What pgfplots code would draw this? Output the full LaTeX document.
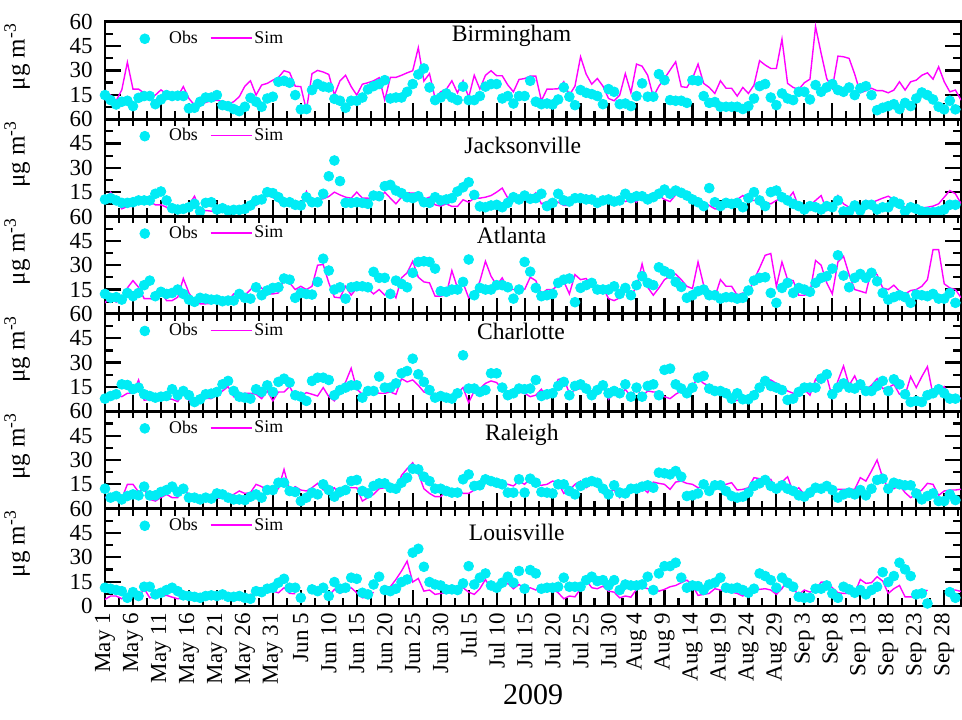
\documentclass[border=0pt]{standalone}
\usepackage{pgfplots}
\pgfplotsset{compat=1.18}
\usepackage{pgfplotstable}
\usepackage{fontspec}
\setmainfont{Liberation Serif}

\definecolor{obscyan}{RGB}{0,236,245}
\definecolor{simmag}{RGB}{255,0,255}

% daily PM2.5, day 0 = May 1 2009
\pgfplotstableread[row sep=\\]{
d obs sim \\
0 14.8 11.7 \\ 1 11.7 14.8 \\ 2 9 11.3 \\ 3 10.7 18 \\ 4 11.3 35 \\ 5 8 18.5 \\
6 13.1 18.5 \\ 7 14.2 16 \\ 8 14.2 13.3 \\ 9 9.2 14.8 \\ 10 12.1 18 \\ 11 14.8 15.4 \\
12 14.2 11.7 \\ 13 14.4 14 \\ 14 14.2 20 \\ 15 6.6 12.7 \\ 16 7 8.6 \\ 17 10.7 8.2 \\
18 13.3 10.3 \\ 19 13.3 11.3 \\ 20 14.8 11.7 \\ 21 8.6 10.7 \\ 22 8 9.2 \\ 23 6.2 10.7 \\
24 4.9 13.8 \\ 25 7.6 20.3 \\ 26 13.1 23.6 \\ 27 10.7 14.8 \\ 28 7.6 21 \\ 29 12.7 22 \\
30 13.8 24 \\ 31 23 25.7 \\ 32 23.6 29.8 \\ 33 22.4 28.7 \\ 34 14.8 20.3 \\ 35 6 20 \\
36 6.2 5.5 \\ 37 17.9 28 \\ 38 21.6 30 \\ 39 20 29 \\ 40 19.5 27.5 \\ 41 12.5 14.8 \\
42 11.3 23.6 \\ 43 7 27 \\ 44 11.3 20 \\ 45 11.3 14.8 \\ 46 13.3 21.5 \\ 47 18.3 22.4 \\
48 20.3 23.6 \\ 49 21.6 25.5 \\ 50 24 11.7 \\ 51 12.7 25.7 \\ 52 13.3 25.7 \\ 53 13.3 27 \\
54 16.8 28.5 \\ 55 21.6 29.8 \\ 56 27.5 44 \\ 57 31.2 23.4 \\ 58 19.5 28 \\ 59 11.7 12.7 \\
60 13.3 16.8 \\ 61 15.8 18.3 \\ 62 13.3 23.6 \\ 63 11.7 16.2 \\ 64 20 23.6 \\ 65 11.7 13.3 \\
66 11.7 27 \\ 67 14.2 18.5 \\ 68 20 27 \\ 69 21.6 29.8 \\ 70 21.6 26.7 \\ 71 12.7 26.7 \\
72 14.2 21 \\ 73 9.6 16.8 \\ 74 14.2 24.4 \\ 75 14.2 25 \\ 76 23.6 26.5 \\ 77 10.7 26.5 \\
78 9.2 11.3 \\ 79 9.6 18.5 \\ 80 9 18.5 \\ 81 12.1 18.7 \\ 82 19.5 23 \\ 83 13.8 14.8 \\
84 8.6 20.3 \\ 85 17.9 38.4 \\ 86 16.2 27.7 \\ 87 15.4 21.5 \\ 88 14.2 25 \\ 89 9.2 20.3 \\
90 18.5 12.7 \\ 91 16.8 11.3 \\ 92 9.2 14.8 \\ 93 9.6 28 \\ 94 8 16.2 \\ 95 14.2 33.9 \\
96 22 32.6 \\ 97 13.8 27 \\ 98 13.8 13.8 \\ 99 27.7 20.3 \\ 100 24 25 \\ 101 11.7 30.2 \\
102 11.3 35.3 \\ 103 11.3 20 \\ 104 10 19.5 \\ 105 24 25 \\ 106 23.6 33.9 \\ 107 14.2 22 \\
108 10 19.5 \\ 109 10.5 15.8 \\ 110 7.6 23.6 \\ 111 7.6 19 \\ 112 7.6 19 \\ 113 7.6 14.2 \\
114 6.2 19.5 \\ 115 8 15.8 \\ 116 12.7 21 \\ 117 20.3 36 \\ 118 21.6 33.3 \\ 119 13.3 31.2 \\
120 8.6 31.2 \\ 121 15.8 49.3 \\ 122 12.7 22 \\ 123 11.7 19.5 \\ 124 16.8 18.3 \\ 125 16.8 22.4 \\
126 12.1 24.6 \\ 127 21 57 \\ 128 16.8 40.5 \\ 129 19.5 25 \\ 130 21.6 19 \\ 131 17.9 38.8 \\
132 16.8 38.4 \\ 133 19.5 37.4 \\ 134 14.8 27.7 \\ 135 19 16.2 \\ 136 20.3 17.5 \\ 137 14.8 19 \\
138 5.5 17.5 \\ 139 7 17.5 \\ 140 8 16.2 \\ 141 9.2 17.9 \\ 142 6.2 23 \\ 143 10 17.9 \\
144 8 23 \\ 145 12.7 24 \\ 146 16.4 27 \\ 147 14.8 28.5 \\ 148 12.1 24.6 \\ 149 7.6 32.2 \\
150 6 23 \\ 151 11.3 16.8 \\ 152 6 17.9 \\ 153 nan 11.7 \\
}\tabBir

\pgfplotstableread[row sep=\\]{
d obs sim \\
0 10.5 9.9 \\ 1 11.3 15 \\ 2 9.9 9.9 \\ 3 8.4 4.7 \\ 4 8.4 6.2 \\ 5 8.8 6.2 \\
6 9.9 8.2 \\ 7 9.9 8.2 \\ 8 9.9 9.2 \\ 9 14 7.2 \\ 10 15.4 7.2 \\ 11 9.9 5.7 \\
12 5.1 2.7 \\ 13 4.3 5.1 \\ 14 4.7 6.2 \\ 15 5.7 7.2 \\ 16 7.8 12.5 \\ 17 3.1 3.7 \\
18 8.4 3.7 \\ 19 8.8 3.3 \\ 20 4.3 2.7 \\ 21 5.1 2.7 \\ 22 3.7 5.7 \\ 23 4.1 5.7 \\
24 4.1 5.7 \\ 25 4.7 5.7 \\ 26 6.8 6.8 \\ 27 9.9 6.8 \\ 28 10.5 9.9 \\ 29 15 12.9 \\
30 14.4 11.9 \\ 31 11.9 9.2 \\ 32 8.8 6.8 \\ 33 8.8 9.9 \\ 34 7.2 7.8 \\ 35 6.8 7.8 \\
36 11.9 15.4 \\ 37 8.8 7.2 \\ 38 8.8 10.5 \\ 39 14 10.9 \\ 40 24.8 12.3 \\ 41 34.5 15 \\
42 21.8 13.3 \\ 43 8.4 11.9 \\ 44 8.4 11.3 \\ 45 8.8 15 \\ 46 8.4 11.3 \\ 47 7.8 11.3 \\
48 12.9 10.9 \\ 49 12.5 10.5 \\ 50 18.7 15 \\ 51 19.5 11.3 \\ 52 16 7.8 \\ 53 14.4 11.9 \\
54 11.9 14.6 \\ 55 11.3 14.4 \\ 56 12.5 14.6 \\ 57 8.8 10.5 \\ 58 8.4 11.9 \\ 59 11.9 7.2 \\
60 9.9 6.4 \\ 61 10.5 7.8 \\ 62 11.3 6.2 \\ 63 15.4 6.2 \\ 64 18 10.3 \\ 65 21.1 8.8 \\
66 13.3 11.3 \\ 67 6.2 11.3 \\ 68 5.7 11.9 \\ 69 6.8 12.9 \\ 70 7.2 15 \\ 71 5.7 17.5 \\
72 8.4 11.3 \\ 73 11.9 10.5 \\ 74 10.5 11.3 \\ 75 12.9 10 \\ 76 10.9 11.3 \\ 77 11.3 14.6 \\
78 14 7.8 \\ 79 6.4 9.2 \\ 80 8.4 9.9 \\ 81 14 8.8 \\ 82 9.9 6.8 \\ 83 9.2 6.8 \\
84 11.3 9.2 \\ 85 11.3 11.3 \\ 86 10.5 13.3 \\ 87 10.5 10.5 \\ 88 8.4 5.7 \\ 89 9.9 10.5 \\
90 10.5 12.5 \\ 91 9.2 9.9 \\ 92 9.9 10.9 \\ 93 14 9.2 \\ 94 11.3 10.5 \\ 95 12.5 8.8 \\
96 12.5 14 \\ 97 10.5 12.9 \\ 98 11.9 14 \\ 99 14 12.9 \\ 100 16.6 10.5 \\ 101 14 9.2 \\
102 16 13.3 \\ 103 14.6 16 \\ 104 12.9 14.6 \\ 105 10.5 11.3 \\ 106 8.8 10.5 \\ 107 6.4 8.8 \\
108 17.5 6.8 \\ 109 8.8 4.7 \\ 110 6.4 4.7 \\ 111 8.4 5.7 \\ 112 7.8 8.4 \\ 113 8.4 10.5 \\
114 5.7 12.9 \\ 115 11.3 10.5 \\ 116 15 9.9 \\ 117 9.9 9.9 \\ 118 6.4 8.8 \\ 119 15 7.8 \\
120 16 9.9 \\ 121 11.9 11.3 \\ 122 9.9 10.5 \\ 123 7.8 15 \\ 124 6.4 5.7 \\ 125 4.3 4.3 \\
126 6.4 6.8 \\ 127 5.7 9.9 \\ 128 4.3 12.9 \\ 129 6.4 3.7 \\ 130 5.7 6.4 \\ 131 9.9 12.9 \\
132 3.1 7.8 \\ 133 3.1 5.7 \\ 134 6.8 3.7 \\ 135 3.7 5.7 \\ 136 7.2 9.9 \\ 137 7.2 8.4 \\
138 4.3 9.9 \\ 139 5.7 11.3 \\ 140 5.7 12.5 \\ 141 9.2 10.5 \\ 142 7.8 8.8 \\ 143 3.1 5.7 \\
144 5.7 5.3 \\ 145 4.7 5.3 \\ 146 3.1 5.3 \\ 147 2.7 5.7 \\ 148 2.7 6.4 \\ 149 3.1 7.8 \\
150 4.3 11.9 \\ 151 7.2 16 \\ 152 7.2 14 \\ 153 nan 8 \\
}\tabJac

\pgfplotstableread[row sep=\\]{
d obs sim \\
0 12.3 6.8 \\ 1 9.9 10.9 \\ 2 10.3 7.2 \\ 3 8.8 9.9 \\ 4 12.9 16 \\ 5 10.9 20.5 \\
6 12.9 16.4 \\ 7 17.7 9.4 \\ 8 20.5 9.4 \\ 9 10.9 8.8 \\ 10 13.6 13.6 \\ 11 12.3 8.2 \\
12 12.9 8.2 \\ 13 15 10.3 \\ 14 12.3 21.8 \\ 15 8.8 12.9 \\ 16 7.4 7.8 \\ 17 9.9 6.2 \\
18 9.4 6.2 \\ 19 8.8 6.4 \\ 20 8.8 7.2 \\ 21 7.8 6.4 \\ 22 8.2 7.8 \\ 23 8.2 12.3 \\
24 12.3 11.5 \\ 25 9.9 11.5 \\ 26 9.4 15 \\ 27 16.4 18.5 \\ 28 11.5 16 \\ 29 14.4 12.3 \\
30 16 12.3 \\ 31 16.4 12.9 \\ 32 21.8 21.8 \\ 33 21.1 19.1 \\ 34 9.9 15 \\ 35 12.9 17 \\
36 12.3 15 \\ 37 11.9 17 \\ 38 19.7 30 \\ 39 34 30.4 \\ 40 26.7 19.1 \\ 41 15 10.3 \\
42 16.4 9.9 \\ 43 9.4 17 \\ 44 16.4 11.5 \\ 45 17 16 \\ 46 17 16 \\ 47 16.4 15.4 \\
48 25.9 12.3 \\ 49 22.2 15 \\ 50 22.2 11.5 \\ 51 12.3 15 \\ 52 20.5 9.9 \\ 53 18.5 22.2 \\
54 16.4 25.3 \\ 55 25.3 32.4 \\ 56 32 22.6 \\ 57 32.4 19.7 \\ 58 32 19.1 \\ 59 27.9 10.9 \\
60 14 10.9 \\ 61 13.6 11.9 \\ 62 15 26.7 \\ 63 15 16 \\ 64 19.7 19.1 \\ 65 33.5 9.9 \\
66 11.5 12.3 \\ 67 16 20.1 \\ 68 15 32.4 \\ 69 15 23.2 \\ 70 17.7 17.7 \\ 71 17.7 22.2 \\
72 16.4 15 \\ 73 9.4 15 \\ 74 15 15 \\ 75 32 15 \\ 76 26 22.6 \\ 77 16 20.5 \\
78 10.9 12.3 \\ 79 11.5 15 \\ 80 12.3 15 \\ 81 19.1 17.7 \\ 82 21.1 20.1 \\ 83 21.8 12.3 \\
84 7.2 24.2 \\ 85 16 21.1 \\ 86 17.7 21.8 \\ 87 19.1 17 \\ 88 15 17 \\ 89 15 16.4 \\
90 15 9.4 \\ 91 17 8.2 \\ 92 12.3 9.9 \\ 93 16 14.4 \\ 94 11.5 11.5 \\ 95 17.7 16.4 \\
96 23.2 30.8 \\ 97 19.1 16.4 \\ 98 17.7 11.5 \\ 99 28.7 16 \\ 100 26.3 21.1 \\ 101 24.6 23.2 \\
102 19.7 24.6 \\ 103 16.6 21.1 \\ 104 9.9 17 \\ 105 11.5 15.6 \\ 106 14 32 \\ 107 15 17.7 \\
108 11.5 14.4 \\ 109 11.5 10.3 \\ 110 9.4 21.1 \\ 111 10.3 17 \\ 112 10.3 17 \\ 113 9.4 11.5 \\
114 9.9 12.9 \\ 115 14.4 12.9 \\ 116 20.5 21.1 \\ 117 22.2 28.3 \\ 118 22.6 36.1 \\ 119 12.9 37.2 \\
120 6.8 17 \\ 121 16 32 \\ 122 19.1 21.1 \\ 123 12.9 20.5 \\ 124 16 11.5 \\ 125 15 11.5 \\
126 13.6 12.9 \\ 127 19.1 32.9 \\ 128 22.2 30 \\ 129 23.2 19.1 \\ 130 27.9 12.3 \\ 131 36.1 32 \\
132 23.6 35.5 \\ 133 16.4 24.2 \\ 134 22.2 15 \\ 135 24.6 14 \\ 136 22.2 12.9 \\ 137 25.3 27.3 \\
138 20.1 24.2 \\ 139 12.9 16 \\ 140 8.8 15 \\ 141 10.3 17.7 \\ 142 11.5 14 \\ 143 10.3 12.3 \\
144 6.8 14.4 \\ 145 11.9 15 \\ 146 11.5 17 \\ 147 10.9 21.1 \\ 148 12.3 39.6 \\ 149 9.4 39.6 \\
150 9.4 18.5 \\ 151 12.9 16 \\ 152 6.8 15 \\ 153 nan 10 \\
}\tabAtl

\pgfplotstableread[row sep=\\]{
d obs sim \\
0 7.8 9.4 \\ 1 9.4 9.4 \\ 2 10.5 10.5 \\ 3 16.6 9 \\ 4 16.2 11.1 \\ 5 13.6 11.1 \\
6 14.6 19.3 \\ 7 10.5 6.8 \\ 8 9.4 7.4 \\ 9 8.4 6.4 \\ 10 9 7 \\ 11 9.4 7.8 \\
12 13.6 7.4 \\ 13 9.9 6 \\ 14 12.5 11.1 \\ 15 9.9 6.8 \\ 16 5.7 4.3 \\ 17 7.4 6.4 \\
18 10.5 8 \\ 19 10.9 7.8 \\ 20 11.9 9.9 \\ 21 16.6 12.5 \\ 22 18.7 15.2 \\ 23 12.5 9 \\
24 9 10.5 \\ 25 8.4 11.1 \\ 26 7.8 11.1 \\ 27 13.6 10.5 \\ 28 11.9 7.8 \\ 29 16 12.5 \\
30 11.9 6.4 \\ 31 18.1 11.9 \\ 32 20.1 11.9 \\ 33 17.7 15.2 \\ 34 9.9 9 \\ 35 9 9.4 \\
36 6.4 11.5 \\ 37 18.7 10.5 \\ 38 20.7 9.4 \\ 39 20.7 14.6 \\ 40 19.3 9 \\ 41 9.9 6.4 \\
42 13.1 11.9 \\ 43 14.6 18 \\ 44 16 26.5 \\ 45 16 13.6 \\ 46 8.4 10.5 \\ 47 12.5 9.9 \\
48 12.5 12.5 \\ 49 21.4 11.1 \\ 50 14.6 11.1 \\ 51 14.6 11.9 \\ 52 17.2 10.5 \\ 53 23.4 20.1 \\
54 24.8 18.1 \\ 55 32.4 19.3 \\ 56 22.8 16 \\ 57 18.1 11.9 \\ 58 13.1 11.1 \\ 59 8.4 7.4 \\
60 9.4 6.8 \\ 61 8.4 7.4 \\ 62 7.8 9 \\ 63 11.1 11.1 \\ 64 34.5 14.6 \\ 65 14 5.3 \\
66 14 12.5 \\ 67 11.9 14 \\ 68 13.1 17.2 \\ 69 23.4 18.7 \\ 70 23.4 17.7 \\ 71 14.6 13.6 \\
72 9.9 11.9 \\ 73 11.1 11.1 \\ 74 14 11.9 \\ 75 13.6 11.1 \\ 76 14 9 \\ 77 19.3 9.9 \\
78 9.4 13.6 \\ 79 10.5 7.8 \\ 80 11.1 11.1 \\ 81 15.6 19.7 \\ 82 18.1 20.1 \\ 83 9.9 11.1 \\
84 15.6 13.1 \\ 85 16.6 14 \\ 86 14 14 \\ 87 9.9 11.9 \\ 88 13.1 13.6 \\ 89 16 15.2 \\
90 11.1 7.4 \\ 91 12.5 11.1 \\ 92 11.1 9.4 \\ 93 16.6 13.6 \\ 94 9 9 \\ 95 14.6 14.6 \\
96 9 9 \\ 97 15.6 12.5 \\ 98 16.6 11.9 \\ 99 9.9 11.9 \\ 100 25.5 9 \\ 101 26.3 7.8 \\
102 16.6 10.5 \\ 103 14 12.5 \\ 104 11.1 11.1 \\ 105 14.6 16 \\ 106 20.7 20.1 \\ 107 21.8 17.2 \\
108 14 15.6 \\ 109 12.5 13.1 \\ 110 12.5 11.1 \\ 111 11.1 9.9 \\ 112 7.8 6 \\ 113 11.1 6.8 \\
114 7.4 6.4 \\ 115 7.4 9 \\ 116 9.9 11.9 \\ 117 14.6 15.6 \\ 118 18.7 16.6 \\ 119 15.6 19.3 \\
120 14.6 17.2 \\ 121 13.1 15.2 \\ 122 7 12.5 \\ 123 7.8 11.1 \\ 124 11.9 11.1 \\ 125 14.6 13.6 \\
126 14.6 9.9 \\ 127 14.6 19.7 \\ 128 20.1 17.2 \\ 129 22.8 21.4 \\ 130 10.5 8.4 \\ 131 14.6 18.7 \\
132 17.2 27.9 \\ 133 14.6 16 \\ 134 14 21.8 \\ 135 16.6 13.6 \\ 136 12.5 13.6 \\ 137 12.5 16 \\
138 15.6 20.1 \\ 139 18.7 14 \\ 140 12.5 14.6 \\ 141 19.7 16.6 \\ 142 16.6 10.5 \\ 143 10.5 9.9 \\
144 5.7 21.4 \\ 145 6.4 14.6 \\ 146 5.7 21.4 \\ 147 9.9 27.5 \\ 148 11.1 9.9 \\ 149 13.6 11.1 \\
150 11.1 15.2 \\ 151 7.8 9.4 \\ 152 7.8 9.4 \\ 153 nan 8 \\
}\tabCha

\pgfplotstableread[row sep=\\]{
d obs sim \\
0 12.3 6.8 \\ 1 6.8 8.2 \\ 2 7.8 7.8 \\ 3 5.7 6.2 \\ 4 7.8 15 \\ 5 8.8 15 \\
6 8.2 10.3 \\ 7 13.6 12.3 \\ 8 8.2 5.7 \\ 9 8.2 4.7 \\ 10 10.3 6.8 \\ 11 11.5 8.8 \\
12 13.6 6.8 \\ 13 10.3 6.8 \\ 14 12.3 14.4 \\ 15 6.8 7.4 \\ 16 6.8 5.7 \\ 17 5.7 4.1 \\
18 6.8 5.7 \\ 19 6.2 6.8 \\ 20 9.4 6.4 \\ 21 8.8 6.4 \\ 22 6.8 7.8 \\ 23 5.7 8.8 \\
24 5.7 10.9 \\ 25 5.3 9.4 \\ 26 7.4 9.9 \\ 27 8.8 15 \\ 28 6.8 13.6 \\ 29 11.5 10.3 \\
30 11.5 10.9 \\ 31 16 12.3 \\ 32 16 24.2 \\ 33 10.9 10.9 \\ 34 10.3 13.6 \\ 35 4.7 11.5 \\
36 6.8 10.9 \\ 37 9.9 12.9 \\ 38 8.8 15.6 \\ 39 15 11.5 \\ 40 11.5 11.5 \\ 41 7.4 12.9 \\
42 10.3 7.4 \\ 43 11.5 12.9 \\ 44 17 12.9 \\ 45 17.7 12.9 \\ 46 10.9 4.7 \\ 47 9.4 6.8 \\
48 14 8.8 \\ 49 15.6 12.3 \\ 50 15.6 12.9 \\ 51 12.9 12.3 \\ 52 12.3 11.5 \\ 53 16 20.5 \\
54 19.1 24.6 \\ 55 24.6 28.3 \\ 56 24.2 21.8 \\ 57 19.7 12.3 \\ 58 17 9.4 \\ 59 12.3 7.4 \\
60 12.3 7.4 \\ 61 10.9 10.9 \\ 62 9.9 8.8 \\ 63 9.9 12.3 \\ 64 18.1 9.4 \\ 65 21.1 9.4 \\
66 14 11.5 \\ 67 14.4 12.9 \\ 68 18.1 20.5 \\ 69 17 14.4 \\ 70 16 15 \\ 71 15 16 \\
72 9.9 15 \\ 73 9.9 14 \\ 74 18.1 17 \\ 75 9.9 15 \\ 76 18.5 18.5 \\ 77 16 15 \\
78 10.3 14.4 \\ 79 9.9 15 \\ 80 9.4 17 \\ 81 15 16 \\ 82 15 9.4 \\ 83 10.9 11.5 \\
84 8.8 15 \\ 85 14 17 \\ 86 16 12.9 \\ 87 17 15 \\ 88 16 16 \\ 89 12.3 9.4 \\
90 8.8 10.9 \\ 91 14.4 11.5 \\ 92 9.9 6.8 \\ 93 9.4 11.5 \\ 94 12.3 9.9 \\ 95 12.3 12.3 \\
96 13.6 12.9 \\ 97 14.4 9.9 \\ 98 12.9 16.4 \\ 99 22.2 15.6 \\ 100 21.8 15 \\ 101 21.1 11.9 \\
102 23.2 16.4 \\ 103 19.7 17 \\ 104 7.8 15.6 \\ 105 8.2 15 \\ 106 9.4 12.9 \\ 107 15 14 \\
108 10.9 9.9 \\ 109 14.4 16 \\ 110 14.4 15 \\ 111 10.9 15 \\ 112 7.8 16 \\ 113 6.8 11.5 \\
114 7.4 11.9 \\ 115 9.9 12.9 \\ 116 14 19.1 \\ 117 15.6 18.5 \\ 118 17.7 18.5 \\ 119 14 18.1 \\
120 12.3 11.5 \\ 121 14.4 16.4 \\ 122 12.3 19.7 \\ 123 10.9 10.3 \\ 124 8.2 12.9 \\ 125 7.4 8.8 \\
126 9.9 12.3 \\ 127 12.9 11.5 \\ 128 12.3 12.9 \\ 129 14 16.4 \\ 130 11.5 12.3 \\ 131 6.8 11.9 \\
132 8.8 11.9 \\ 133 9.9 11.9 \\ 134 8.8 11.9 \\ 135 11.5 19.1 \\ 136 8.2 17 \\ 137 12.3 23.2 \\
138 17.7 30 \\ 139 18.5 19.1 \\ 140 12.3 12.3 \\ 141 16 12.3 \\ 142 15 14.4 \\ 143 14.4 9.9 \\
144 14.4 6.8 \\ 145 9.4 8.8 \\ 146 5.7 11.5 \\ 147 7.8 15.6 \\ 148 9.4 15 \\ 149 4.7 8.2 \\
150 4.7 10.9 \\ 151 8.8 11.5 \\ 152 5.3 11.5 \\ 153 nan 12 \\
}\tabRal

\pgfplotstableread[row sep=\\]{
d obs sim \\
0 11.3 4.1 \\ 1 10.7 6.2 \\ 2 9.9 6.2 \\ 3 9.2 4.5 \\ 4 5.1 6.6 \\ 5 8.6 6.2 \\
6 6.2 5.5 \\ 7 11.9 10.7 \\ 8 11.9 5.1 \\ 9 7.2 5.7 \\ 10 8.2 6.2 \\ 11 9.9 6.6 \\
12 11.3 5.5 \\ 13 9.2 4.5 \\ 14 6.6 5.1 \\ 15 6.2 5.5 \\ 16 5.7 5.5 \\ 17 5.1 5.1 \\
18 6.2 4.7 \\ 19 6.6 4.9 \\ 20 6.2 4.9 \\ 21 7.2 4.7 \\ 22 5.7 6.2 \\ 23 5.7 6.6 \\
24 6.2 6.6 \\ 25 5.1 5.1 \\ 26 4.5 5.7 \\ 27 9.2 11.3 \\ 28 8.6 11.3 \\ 29 10.7 8.6 \\
30 11.3 9.2 \\ 31 14.4 8.2 \\ 32 16.8 11.3 \\ 33 11.3 7.8 \\ 34 11.3 7.6 \\ 35 5.1 nan \\
36 nan nan \\ 37 10.3 10.7 \\ 38 9.2 9.9 \\ 39 11.3 9.9 \\ 40 6.2 6.2 \\ 41 14.8 10.3 \\
42 10.7 7.8 \\ 43 11.3 9.9 \\ 44 17.5 11.3 \\ 45 16.8 8.2 \\ 46 8.2 5.1 \\ 47 7.2 5.7 \\
48 13.3 8.6 \\ 49 18.1 nan \\ 50 9.9 11.9 \\ 51 9.2 11.9 \\ 52 10.7 16.4 \\ 53 14.8 21.6 \\
54 16.4 27.7 \\ 55 32.9 14.8 \\ 56 35.3 17 \\ 57 24.2 9.2 \\ 58 14.8 9.9 \\ 59 13.3 7.2 \\
60 12.7 7.8 \\ 61 10.3 8.2 \\ 62 10.3 10.7 \\ 63 9.9 10.7 \\ 64 14 11.3 \\ 65 24.6 8.6 \\
66 13.3 7.2 \\ 67 17.5 10.7 \\ 68 20.1 16.4 \\ 69 12.7 10.3 \\ 70 11.3 10.3 \\ 71 14.4 11.9 \\
72 18.1 14 \\ 73 14.4 10.7 \\ 74 21.6 13.3 \\ 75 10.7 10.7 \\ 76 22.2 11.3 \\ 77 20.1 9.9 \\
78 10.7 11.9 \\ 79 11.3 12.7 \\ 80 11.3 10.7 \\ 81 11.9 8.2 \\ 82 17.5 4.5 \\ 83 11.9 6.2 \\
84 11.9 5.7 \\ 85 11.9 10.7 \\ 86 16 16 \\ 87 18.1 11.3 \\ 88 15.4 10.7 \\ 89 16 12.3 \\
90 12.7 9.2 \\ 91 16 8.6 \\ 92 9.9 5.1 \\ 93 13.3 6.2 \\ 94 12.7 5.5 \\ 95 12.7 10.3 \\
96 13.3 11.9 \\ 97 18.1 10.7 \\ 98 9.9 10.3 \\ 99 20.1 9.2 \\ 100 24.6 10.3 \\ 101 24.6 11.9 \\
102 26.7 12.7 \\ 103 17.5 14.4 \\ 104 11.3 16 \\ 105 12.7 12.7 \\ 106 12.3 6.6 \\ 107 9.9 7.2 \\
108 13.3 7.8 \\ 109 14.4 10.7 \\ 110 17.5 9.9 \\ 111 11.3 9.2 \\ 112 10.7 8.6 \\ 113 11.3 7.8 \\
114 9.9 6.2 \\ 115 8.2 9.2 \\ 116 10.7 10.7 \\ 117 20.1 10.3 \\ 118 18.5 10.7 \\ 119 16 9.9 \\
120 11.3 7.2 \\ 121 17.5 10.7 \\ 122 14.4 16.4 \\ 123 11.9 10.3 \\ 124 5.7 7.2 \\ 125 5.1 9.9 \\
126 5.1 8.6 \\ 127 10.7 9.9 \\ 128 10.7 14.8 \\ 129 12.7 14.8 \\ 130 7.8 11.3 \\ 131 5.1 8.2 \\
132 11.9 7.8 \\ 133 10.3 7.8 \\ 134 8.2 7.8 \\ 135 9.9 16.4 \\ 136 7.2 14 \\ 137 9.9 14.4 \\
138 11.9 18.1 \\ 139 20.9 15.4 \\ 140 14.8 7.8 \\ 141 18.5 10.7 \\ 142 26.7 12.7 \\ 143 22.6 5.7 \\
144 18.5 5.7 \\ 145 7.2 5.1 \\ 146 7.8 7.2 \\ 147 1.6 9.9 \\ 148 nan nan \\ 149 nan nan \\
150 nan nan \\ 151 8.6 9.9 \\ 152 5.1 9.9 \\ 153 nan 9 \\
}\tabLou

\tikzset{city/.style={font=\fontsize{11.8}{12}\selectfont, inner sep=0pt}}

\pgfplotsset{
  panel/.style={
    width=428pt, height=48.7pt, scale only axis,
    xmin=0, xmax=153, ymin=0, ymax=60,
    axis line style={line width=1.4pt},
    every tick/.style={black, line width=1.1pt},
    major tick length=8pt, minor tick length=4pt,
    tick align=inside,
    xtick={0,5,...,150}, minor x tick num=1,
    ytick={0,15,30,45,60}, minor y tick num=1,
    xtick pos=bottom, ytick pos=both, yticklabel pos=left,
    xticklabels={}, yticklabels={,15,30,45,60},
    /pgf/number format/assume math mode=true,
    ticklabel style={font=\fontsize{11.5}{12}\selectfont},
    yticklabel style={xshift=-2.7pt},
    ylabel={μg m\textsuperscript{-3}},
    every axis y label/.style={at={(rel axis cs:0,0.64)}, xshift=-34pt,
      rotate=90, anchor=south, font=\fontsize{12.5}{13}\selectfont},
    legend columns=2,
    legend style={at={(rel axis cs:0,1)}, anchor=north west, xshift=12.5pt,
      yshift=-3.5pt, draw=none, fill=none, inner sep=0pt,
      nodes={inner sep=1pt}, font=\fontsize{8.9}{9}\selectfont,
      /tikz/every even column/.append style={column sep=5pt}},
  },
  toptk/.style={
    extra x ticks={0,2.5,...,152.5}, extra x tick labels={},
    extra x tick style={xtick pos=top, major tick length=3.5pt},
  },
  obs/.style={only marks, mark=*, mark size=2.45pt, color=obscyan,
    legend image code/.code={\path (0pt,0pt) (18pt,0pt);
      \draw[##1] plot coordinates {(7pt,0pt)};}},
  sim/.style={color=simmag, line width=0.7pt, mark=none, unbounded coords=jump,
    legend image code/.code={\draw[simmag, line width=0.8pt] (0pt,0.3pt) -- (20.5pt,0.3pt);}},
}

\begin{document}
\begin{tikzpicture}
\begin{axis}[panel, name=p1, at={(0,0)}, anchor=north west]
\addplot[obs] table[x=d, y=obs]{\tabBir};
\addplot[sim] table[x=d, y=sim]{\tabBir};
\legend{Obs, Sim}
\node[city] at (rel axis cs:0.475,0.85) {Birmingham};
\end{axis}

\begin{axis}[panel, toptk, name=p2, at={(p1.south west)}, anchor=north west]
\addplot[obs] table[x=d, y=obs]{\tabJac};
\addplot[sim] table[x=d, y=sim]{\tabJac};
\legend{Obs, Sim}
\node[city] at (rel axis cs:0.488,0.733) {Jacksonville};
\end{axis}

\begin{axis}[panel, toptk, name=p3, at={(p2.south west)}, anchor=north west]
\addplot[obs] table[x=d, y=obs]{\tabAtl};
\addplot[sim] table[x=d, y=sim]{\tabAtl};
\legend{Obs, Sim}
\node[city] at (rel axis cs:0.475,0.805) {Atlanta};
\end{axis}

\begin{axis}[panel, toptk, name=p4, at={(p3.south west)}, anchor=north west]
\addplot[obs] table[x=d, y=obs]{\tabCha};
\addplot[sim] table[x=d, y=sim]{\tabCha};
\legend{Obs, Sim}
\node[city] at (rel axis cs:0.486,0.825) {Charlotte};
\end{axis}

\begin{axis}[panel, toptk, name=p5, at={(p4.south west)}, anchor=north west]
\addplot[obs] table[x=d, y=obs]{\tabRal};
\addplot[sim] table[x=d, y=sim]{\tabRal};
\legend{Obs, Sim}
\node[city] at (rel axis cs:0.487,0.754) {Raleigh};
\end{axis}

\begin{axis}[panel, toptk, name=p6, at={(p5.south west)}, anchor=north west,
  yticklabels={0,15,30,45,60},
  xticklabels={May 1,May 6,May 11,May 16,May 21,May 26,May 31,Jun 5,Jun 10,
    Jun 15,Jun 20,Jun 25,Jun 30,Jul 5,Jul 10,Jul 15,Jul 20,Jul 25,Jul 30,
    Aug 4,Aug 9,Aug 14,Aug 19,Aug 24,Aug 29,Sep 3,Sep 8,Sep 13,Sep 18,
    Sep 23,Sep 28},
  xticklabel style={rotate=90, anchor=east},
  xlabel={2009},
  every axis x label/.style={at={(rel axis cs:0.5,0)}, yshift=-44.5pt,
    anchor=center, font=\fontsize{15}{15}\selectfont}]
\addplot[obs] table[x=d, y=obs]{\tabLou};
\addplot[sim] table[x=d, y=sim]{\tabLou};
\legend{Obs, Sim}
\node[city] at (rel axis cs:0.481,0.754) {Louisville};
\end{axis}

\pgfresetboundingbox
\path[use as bounding box] ([shift={(-52.5pt,10.85pt)}]p1.north west)
  rectangle ([shift={(428.5pt,-348.65pt)}]p1.north west);
\end{tikzpicture}
\end{document}
